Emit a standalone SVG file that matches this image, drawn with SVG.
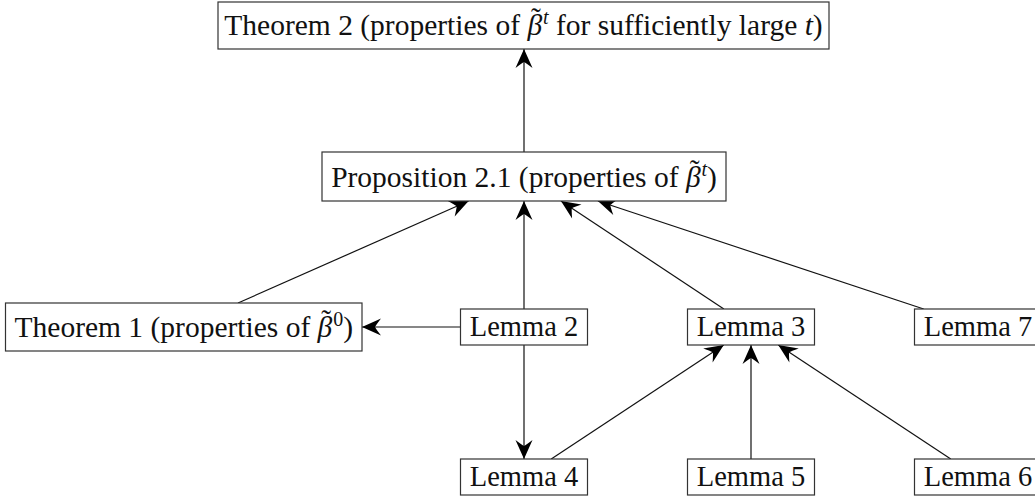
<svg xmlns="http://www.w3.org/2000/svg" width="1035" height="499" viewBox="0 0 1035 499">
<style>
  .box { fill: #ffffff; stroke: #333333; stroke-width: 1.2; }
  .lbl { font-family: "Liberation Serif", "DejaVu Serif", serif; font-size: 29.5px; fill: #111111; text-anchor: middle; }
  .lem { font-size: 28.5px; }
  .it { font-style: italic; }
  .sup { font-size: 20px; }
  .edge { fill: none; stroke: #111111; stroke-width: 1.2; marker-end: url(#arr); }
</style>
<defs>
  <marker id="arr" viewBox="-21 -10 23 20" refX="0" refY="0" markerWidth="23" markerHeight="20" markerUnits="userSpaceOnUse" orient="auto">
    <path d="M0,0 L-19,-8.5 Q-14,-2 -13,0 Q-14,2 -19,8.5 Z" fill="#000000"/>
  </marker>
</defs>
<rect width="1035" height="499" fill="#ffffff"/>
<g id="connectors">
  <line class="edge" x1="524" y1="152" x2="524" y2="49"/>
  <line class="edge" x1="238" y1="303" x2="468.6" y2="201"/>
  <line class="edge" x1="524" y1="309" x2="524" y2="201"/>
  <line class="edge" x1="723.85" y1="309" x2="560.95" y2="201"/>
  <line class="edge" x1="923.7" y1="309" x2="597.9" y2="201"/>
  <line class="edge" x1="460.5" y1="327" x2="362" y2="327"/>
  <line class="edge" x1="524" y1="345" x2="524" y2="459"/>
  <line class="edge" x1="551.24" y1="459" x2="723.76" y2="345"/>
  <line class="edge" x1="751" y1="459" x2="751" y2="345"/>
  <line class="edge" x1="950.76" y1="459" x2="778.24" y2="345"/>
</g>
<g id="theorem2">
  <rect class="box" x="218" y="2" width="611" height="47"/>
  <text class="lbl" x="523.5" y="34.5">Theorem 2 (properties of <tspan class="it">β</tspan><tspan dx="-11" dy="-7">˜</tspan><tspan class="it sup" dx="2" dy="-4">t</tspan><tspan dy="11"> for sufficiently large </tspan><tspan class="it">t</tspan>)</text>
</g>
<g id="proposition21">
  <rect class="box" x="322" y="152" width="404" height="49"/>
  <text class="lbl" x="524" y="186.5">Proposition 2.1 (properties of <tspan class="it">β</tspan><tspan dx="-11" dy="-7">˜</tspan><tspan class="it sup" dx="2" dy="-4">t</tspan><tspan dy="11">)</tspan></text>
</g>
<g id="theorem1">
  <rect class="box" x="5.5" y="303" width="356.5" height="48"/>
  <text class="lbl" x="183.75" y="336.5">Theorem 1 (properties of <tspan class="it">β</tspan><tspan dx="-11" dy="-7">˜</tspan><tspan class="sup" dx="2" dy="-4">0</tspan><tspan dy="11">)</tspan></text>
</g>
<g id="lemma2">
  <rect class="box" x="460.5" y="309" width="127" height="36"/>
  <text class="lbl lem" x="524" y="336">Lemma 2</text>
</g>
<g id="lemma3">
  <rect class="box" x="687.5" y="309" width="127" height="36"/>
  <text class="lbl lem" x="751" y="336">Lemma 3</text>
</g>
<g id="lemma7">
  <rect class="box" x="914.5" y="309" width="127" height="36"/>
  <text class="lbl lem" x="978" y="336">Lemma 7</text>
</g>
<g id="lemma4">
  <rect class="box" x="460.5" y="459" width="127" height="36"/>
  <text class="lbl lem" x="524" y="486">Lemma 4</text>
</g>
<g id="lemma5">
  <rect class="box" x="687.5" y="459" width="127" height="36"/>
  <text class="lbl lem" x="751" y="486">Lemma 5</text>
</g>
<g id="lemma6">
  <rect class="box" x="914.5" y="459" width="127" height="36"/>
  <text class="lbl lem" x="978" y="486">Lemma 6</text>
</g>
</svg>
